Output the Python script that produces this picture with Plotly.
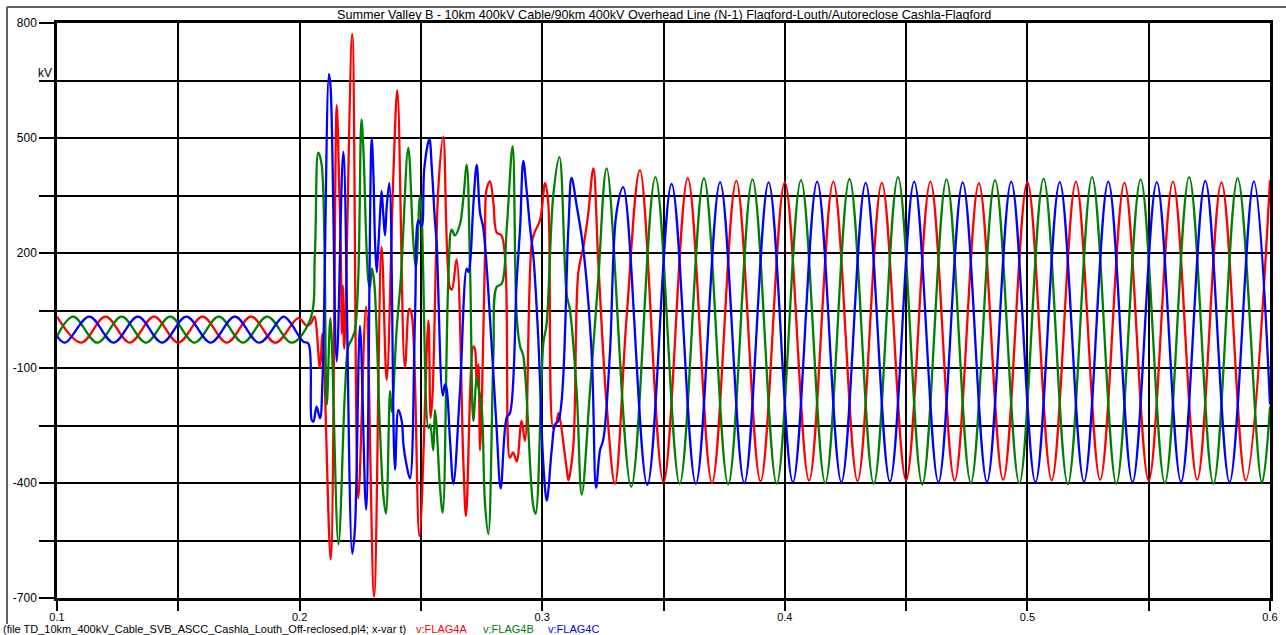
import plotly.graph_objects as go

# ---------------- data (time in s, voltage in kV) ----------------
red_t = [0.100, 0.110, 0.120, 0.130, 0.140, 0.150, 0.160, 0.170, 0.180, 0.190,
         0.1995, 0.2030, 0.2048, 0.2061, 0.2084, 0.2094, 0.2128, 0.2153, 0.2163, 0.2170,
         0.2174, 0.2178, 0.2184, 0.2217, 0.2242, 0.2274, 0.2307, 0.2338, 0.2359, 0.2386,
         0.2403, 0.2434, 0.2452, 0.2462, 0.2494, 0.2531, 0.2540, 0.2548, 0.2572, 0.2592,
         0.2620, 0.2628, 0.2647, 0.2675, 0.2686, 0.2716, 0.2723, 0.2730, 0.2737, 0.2744,
         0.2764, 0.2771, 0.2785, 0.2799, 0.2812, 0.2833, 0.2867, 0.2880, 0.2895, 0.2915,
         0.2929, 0.2957, 0.2970, 0.2991, 0.3012, 0.3025, 0.3046, 0.3060, 0.3067, 0.3101,
         0.3108, 0.3128, 0.3149, 0.3170, 0.3190, 0.3211, 0.3231, 0.3266, 0.3300, 0.3348,
         0.3403, 0.350, 0.360, 0.370, 0.380, 0.390, 0.400, 0.410, 0.420, 0.430,
         0.440, 0.450, 0.460, 0.470, 0.480, 0.490, 0.500, 0.510, 0.520, 0.530,
         0.540, 0.550, 0.560, 0.570, 0.580, 0.590, 0.600]
red_v = [34, -34, 34, -34, 34, -34, 34, -34, 34, -34,
         30, 10, 18, 34, -101, -10, -600, 586, 380, 200,
         -10, 115, -50, 771, -440, 60, -696, 216, -131, 395,
         625, -100, 55, 40, -538, 24, -230, -170, 371, 503,
         109, 105, 183, -346, -486, -44, -52, -140, -90, -315,
         188, 367, 387, 331, 254, 245, -334, -320, -344, -238,
         -290, 227, 256, 285, 382, 330, -257, -240, -218, -363,
         -393, -306, 150, 217, 304, 421, 179, -199, -402, 33,
         416, -398, 395, -400, 388, -396, 385, -394, 386, -395,
         383, -393, 386, -394, 382, -392, 385, -393, 386, -392,
         383, -394, 386, -392, 384, -393, 390]

green_t = [0.1000, 0.10667, 0.11667, 0.12667, 0.13667, 0.14667, 0.15667, 0.16667, 0.17667, 0.18667,
           0.19667, 0.2043, 0.2063, 0.2077, 0.2091, 0.2112, 0.2127, 0.2160, 0.2187, 0.2201,
           0.2215, 0.2228, 0.2242, 0.2255, 0.2263, 0.2283, 0.2290, 0.2298, 0.2308, 0.2331,
           0.2345, 0.2356, 0.2373, 0.2380, 0.2400, 0.2418, 0.2448, 0.2469, 0.2480, 0.2496,
           0.2503, 0.2531, 0.2538, 0.2551, 0.2558, 0.2565, 0.2579, 0.2590, 0.2613, 0.2627,
           0.2640, 0.2661, 0.2675, 0.2689, 0.2703, 0.2716, 0.2730, 0.2737, 0.2751, 0.2764,
           0.2778, 0.2799, 0.2812, 0.2833, 0.2854, 0.2878, 0.2895, 0.2909, 0.2922, 0.2963,
           0.2973, 0.3005, 0.3018, 0.3046, 0.3071, 0.3101, 0.3114, 0.3142, 0.3163, 0.3197,
           0.3231, 0.3266, 0.3367, 0.34667, 0.35667, 0.36667, 0.37667, 0.38667, 0.39667, 0.40667,
           0.41667, 0.42667, 0.43667, 0.44667, 0.45667, 0.46667, 0.47667, 0.48667, 0.49667, 0.50667,
           0.51667, 0.52667, 0.53667, 0.54667, 0.55667, 0.56667, 0.57667, 0.58667, 0.59667, 0.6000]
green_v = [-17, 34, -34, 34, -34, 34, -34, 34, -34, 34,
           -34, 25, 200, 462, 430, -196, 30, -560, -160, -44,
           -25, -2, 138, 548, 469, 130, 110, 160, 120, -257,
           -431, -480, -160, -215, 0, 140, 474, 227, 164, 348,
           300, -257, -247, -315, -209, -257, -414, -477, 130, 261,
           246, 275, 343, 430, 150, -238, -122, -150, -209, -451,
           -533, -63, 111, 120, 266, 479, 33, -44, -68, -460,
           -480, -34, 14, 353, 450, 91, 53, -160, -430, -160,
           130, 421, -410, 398, -402, 395, -403, 392, -402, 390,
           -400, 393, -402, 398, -404, 392, -400, 390, -401, 394,
           -403, 398, -402, 392, -400, 398, -402, 395, -400, -200]

blue_t = [0.1000, 0.10333, 0.11333, 0.12333, 0.13333, 0.14333, 0.15333, 0.16333, 0.17333, 0.18333,
          0.19333, 0.1960, 0.2015, 0.2036, 0.2050, 0.2057, 0.2070, 0.2084, 0.2095, 0.2121,
          0.2128, 0.2153, 0.2180, 0.2217, 0.2228, 0.2249, 0.2274, 0.2297, 0.2304, 0.2311,
          0.2318, 0.2324, 0.2331, 0.2338, 0.2345, 0.2352, 0.2359, 0.2370, 0.2393, 0.2407,
          0.2421, 0.2428, 0.2441, 0.2455, 0.2476, 0.2490, 0.2503, 0.2514, 0.2535, 0.2545,
          0.2558, 0.2565, 0.2590, 0.2599, 0.2606, 0.2620, 0.2634, 0.2661, 0.2689, 0.2696,
          0.2703, 0.2716, 0.2730, 0.2744, 0.2757, 0.2792, 0.2812, 0.2829, 0.2854, 0.2867,
          0.2895, 0.2909, 0.2922, 0.2936, 0.2950, 0.2964, 0.2984, 0.3005, 0.3019, 0.3039,
          0.3053, 0.3067, 0.3108, 0.3121, 0.3142, 0.3170, 0.3204, 0.3222, 0.3238, 0.3252,
          0.3279, 0.3306, 0.3334, 0.34333, 0.35333, 0.36333, 0.37333, 0.38333, 0.39333, 0.40333,
          0.41333, 0.42333, 0.43333, 0.44333, 0.45333, 0.46333, 0.47333, 0.48333, 0.49333, 0.50333,
          0.51333, 0.52333, 0.53333, 0.54333, 0.55333, 0.56333, 0.57333, 0.58333, 0.59333, 0.6000]
blue_v = [-17, -34, 34, -34, 34, -34, 34, -34, 34, -34,
          34, 20, -31, -36, -236, -240, -201, -231, -120, 667,
          630, -83, 464, -585, -520, 10, -470, 498, 411, 227,
          150, 210, 295, 362, 300, 246, 320, 382, -365, -209,
          -238, -300, -354, -388, 41, 285, 270, 421, 498, 421,
          283, 225, -172, -143, -155, -288, -402, -160, 159, 150,
          175, 324, 430, 304, 266, -44, -257, -414, -228, -218,
          130, 266, 440, 362, 266, 188, -25, -354, -446, -315,
          -247, -238, 266, 396, 324, 208, -63, -412, -315, -286,
          -63, 304, 372, -405, 380, -402, 385, -400, 384, -398,
          386, -398, 383, -396, 386, -398, 384, -397, 386, -398,
          385, -397, 386, -398, 385, -397, 388, -398, 387, -195]

x_tick_vals = [0.1, 0.2, 0.3, 0.4, 0.5, 0.6]
x_tick_text = ["0.1", "0.2", "0.3", "0.4", "0.5", "0.6"]
y_tick_vals = [-700, -400, -100, 200, 500, 800]
y_tick_text = ["-700", "-400", "-100", "200", "500", "800"]

series_names = ["v:FLAG4A", "v:FLAG4B", "v:FLAG4C"]
series_colors = ["#ff0000", "#008000", "#0000ff"]
title_text = ("Summer Valley B - 10km 400kV Cable/90km 400kV Overhead Line (N-1) "
              "Flagford-Louth/Autoreclose Cashla-Flagford")
footer_text = "(file TD_10km_400kV_Cable_SVB_ASCC_Cashla_Louth_Off-reclosed.pl4; x-var t)"
unit_text = "kV"

# ---------------- layout geometry ----------------
W, H = 1286, 635
L, R, T, B = 57, 16, 23, 37
PW, PH = W - L - R, H - T - B


def px(xp):
    return (xp - L) / PW


def py(yp):
    return (H - B - yp) / PH


FONT = "Liberation Sans, Arial, Helvetica, sans-serif"

fig = go.Figure()
for t, v, name, col in [(red_t, red_v, series_names[0], series_colors[0]),
                        (green_t, green_v, series_names[1], series_colors[1]),
                        (blue_t, blue_v, series_names[2], series_colors[2])]:
    fig.add_trace(go.Scatter(x=t, y=v, mode="lines", name=name,
                             line=dict(color=col, width=2.3, shape="spline", smoothing=1),
                             showlegend=False, hoverinfo="skip"))

axis_common = dict(showgrid=True, gridcolor="black", gridwidth=1.5,
                   showline=True, linecolor="black", linewidth=2.5, mirror=True,
                   zeroline=False, ticks="outside", tickwidth=2, tickcolor="black",
                   tickmode="array")

fig.update_xaxes(range=[0.1, 0.6], tickvals=x_tick_vals, ticktext=x_tick_text, ticklen=10,
                 ticklabelstandoff=-3,
                 tickfont=dict(family=FONT, size=11, color="black"),
                 minor=dict(tickmode="linear", tick0=0.1, dtick=0.05, ticks="outside",
                            ticklen=10, tickwidth=2, tickcolor="black",
                            showgrid=True, gridcolor="black", gridwidth=1.5),
                 **axis_common)
fig.update_yaxes(range=[-700, 800], tickvals=y_tick_vals, ticktext=y_tick_text, ticklen=15,
                 tickfont=dict(family=FONT, size=12, color="black"),
                 minor=dict(tickmode="linear", tick0=-700, dtick=150, ticks="outside",
                            ticklen=15, tickwidth=2, tickcolor="black",
                            showgrid=True, gridcolor="black", gridwidth=1.5),
                 **axis_common)

annotations = [
    dict(text=title_text, x=0.5, y=py(15), xanchor="center", yanchor="middle",
         font=dict(family=FONT, size=12.6, color="black")),
    dict(text=unit_text, x=px(45), y=py(73), xanchor="center", yanchor="middle",
         font=dict(family=FONT, size=12, color="black")),
    dict(text=footer_text, x=px(1), y=py(629), xanchor="left", yanchor="middle",
         font=dict(family=FONT, size=11, color="black")),
    dict(text=series_names[0], x=px(414), y=py(629), xanchor="left", yanchor="middle",
         font=dict(family=FONT, size=11, color=series_colors[0])),
    dict(text=series_names[1], x=px(481), y=py(629), xanchor="left", yanchor="middle",
         font=dict(family=FONT, size=11, color=series_colors[1])),
    dict(text=series_names[2], x=px(546), y=py(629), xanchor="left", yanchor="middle",
         font=dict(family=FONT, size=11, color=series_colors[2])),
]
for a in annotations:
    a.update(xref="paper", yref="paper", showarrow=False)

shapes = [
    dict(type="line", xref="paper", yref="paper", x0=px(7), x1=px(1295), y0=py(7), y1=py(7),
         line=dict(color="#606060", width=2)),
    dict(type="line", xref="paper", yref="paper", x0=px(7), x1=px(7), y0=py(7), y1=py(624),
         line=dict(color="#606060", width=2)),
]

fig.update_layout(width=W, height=H, margin=dict(l=L, r=R, t=T, b=B, autoexpand=False),
                  paper_bgcolor="white", plot_bgcolor="white", showlegend=False,
                  font=dict(family=FONT, size=12, color="black"),
                  annotations=annotations, shapes=shapes)

fig.write_html("out.html")
